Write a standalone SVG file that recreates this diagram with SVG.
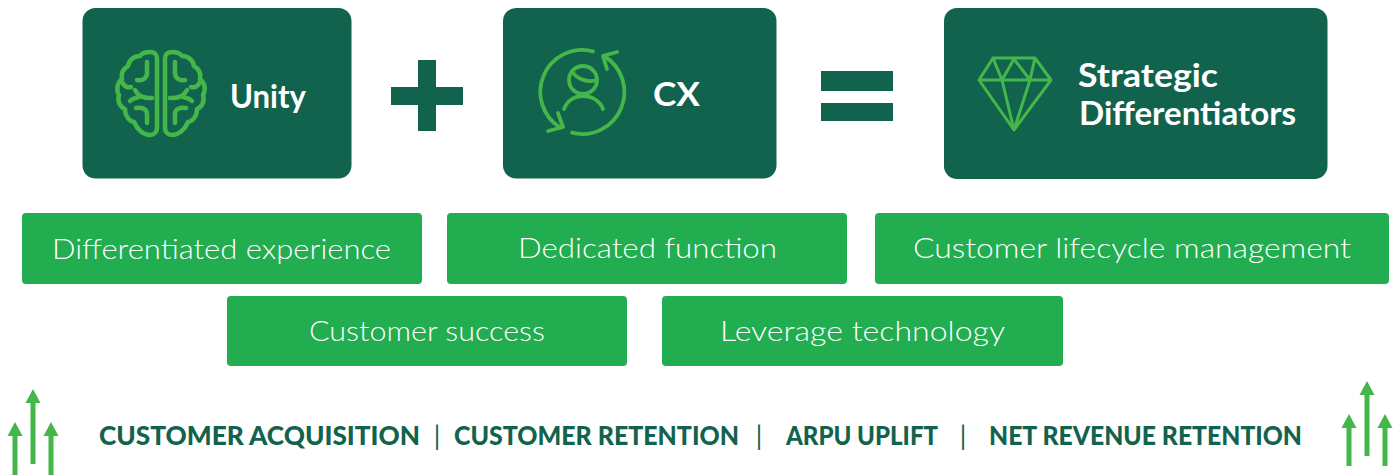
<svg xmlns="http://www.w3.org/2000/svg" width="1399" height="476" viewBox="0 0 1399 476">
<style>
.dark{fill:#12634e}
.green{fill:#22ad50}
.title{font-family:"Lato","Liberation Sans",sans-serif;font-weight:700;font-size:32px;fill:#fff}
.item{font-family:"Lato","Liberation Sans",sans-serif;font-weight:300;font-size:27px;fill:#fff}
.metric{font-family:"Lato","Liberation Sans",sans-serif;font-weight:900;font-size:26px;fill:#12634e}
.pipe{font-family:"Lato","Liberation Sans",sans-serif;font-weight:400;font-size:26px;fill:#12634e;text-anchor:middle}
.icon{fill:none;stroke:#45b649;stroke-linecap:round;stroke-linejoin:round}
.arrow{fill:#45b649}
</style>
<defs>
<path id="up" class="arrow" d="M0 0L7.500 14H-7.500Z"/>
<g id="hemi">
<path d="M157 58C157 54 154 52 150 52C146 52 142 53 140 56C134 56 129 60 128 66C123 69 121 74 122 79C117 83 116 90 119 95C117 101 120 107 125 109C125 116 129 121 134 122C137 129 143 135 150 135C154 135 157 132 157 128Z"/>
<path d="M147 62V73C147 78 143 81 137 80M122 82C124 86 127 88 131 87M135 90C139 97 144 98 152 98M130 101C132 99 135 98 139 97M136 108C142 107 147 109 147 114V123"/>
</g>
</defs>
<rect width="1399" height="476" fill="#fff"/>
<g id="connectors"></g>
<g id="node-unity">
<rect class="dark" x="82.500" y="8" width="269" height="170.500" rx="13"/>
<g class="icon" stroke-width="4.500"><use href="#hemi"/><use href="#hemi" transform="matrix(-1 0 0 1 322 0)"/></g>
<text class="title" x="230" y="108" textLength="76" lengthAdjust="spacingAndGlyphs">Unity</text>
</g>
<g id="op-plus"><path class="dark" d="M418 60H436V87H463V105H436V131H418V105H391V87H418Z"/></g>
<g id="node-cx">
<rect class="dark" x="503" y="8" width="273.500" height="170.500" rx="13"/>
<g class="icon" stroke-width="3.800">
<path d="M593 51.300A42 42 0 0 0 560 127.500"/>
<path d="M572 132.700A42 42 0 0 0 604 56"/>
<path d="M548 131L563 127L558 113M617 52L603 56L607 69"/>
<circle cx="583" cy="80" r="14"/>
<path d="M572 71C576 79 588 83 597 80"/>
<path d="M564 109C567 101 574 96 583 96C592 96 600 101 603 109"/>
</g>
<text class="title" x="653" y="106" textLength="47" lengthAdjust="spacingAndGlyphs">CX</text>
</g>
<g id="op-equals"><rect class="dark" x="821" y="71" width="72" height="20"/><rect class="dark" x="821" y="103" width="72" height="18"/></g>
<g id="node-strategic">
<rect class="dark" x="944" y="8" width="383.500" height="171" rx="13"/>
<g class="icon" stroke-width="3"><path d="M993 58H1035L1051 80L1014 130L979 80ZM979 80H1051M993 58L1002 80L1014 59L1030 80L1035 58M1002 80L1014 130L1030 80"/></g>
<text class="title" x="1078" y="87" textLength="140" lengthAdjust="spacingAndGlyphs">Strategic</text>
<text class="title" x="1079" y="125" textLength="217" lengthAdjust="spacingAndGlyphs">Differentiators</text>
</g>
<g id="node-experience"><rect class="green" x="22" y="213" width="400" height="71" rx="4"/><text class="item" x="52" y="259" textLength="339" lengthAdjust="spacingAndGlyphs">Differentiated experience</text></g>
<g id="node-function"><rect class="green" x="447" y="213" width="400" height="71" rx="4"/><text class="item" x="518" y="258" textLength="259" lengthAdjust="spacingAndGlyphs">Dedicated function</text></g>
<g id="node-lifecycle"><rect class="green" x="875" y="213" width="514" height="71" rx="4"/><text class="item" x="913" y="258" textLength="438" lengthAdjust="spacingAndGlyphs">Customer lifecycle management</text></g>
<g id="node-success"><rect class="green" x="227" y="296" width="400" height="70" rx="4"/><text class="item" x="309" y="341" textLength="236" lengthAdjust="spacingAndGlyphs">Customer success</text></g>
<g id="node-technology"><rect class="green" x="662" y="296" width="401" height="70" rx="4"/><text class="item" x="720" y="341" textLength="285" lengthAdjust="spacingAndGlyphs">Leverage technology</text></g>
<g id="metrics">
<text class="metric" x="99" y="445" textLength="321" lengthAdjust="spacingAndGlyphs">CUSTOMER ACQUISITION</text>
<text class="pipe" x="437" y="445">|</text>
<text class="metric" x="454" y="445" textLength="285" lengthAdjust="spacingAndGlyphs">CUSTOMER RETENTION</text>
<text class="pipe" x="759" y="445">|</text>
<text class="metric" x="786" y="445" textLength="152" lengthAdjust="spacingAndGlyphs">ARPU UPLIFT</text>
<text class="pipe" x="963" y="445">|</text>
<text class="metric" x="989" y="445" textLength="313" lengthAdjust="spacingAndGlyphs">NET REVENUE RETENTION</text>
</g>
<g id="arrows-left">
<g transform="translate(15 422)"><use href="#up"/><rect class="arrow" x="-2.500" y="13" width="5" height="40"/></g>
<g transform="translate(33 389)"><use href="#up"/><rect class="arrow" x="-2.500" y="13" width="5" height="62"/></g>
<g transform="translate(51 422)"><use href="#up"/><rect class="arrow" x="-2.500" y="13" width="5" height="40"/></g>
</g>
<g id="arrows-right">
<g transform="translate(1349 414)"><use href="#up"/><rect class="arrow" x="-2.500" y="13" width="5" height="39"/></g>
<g transform="translate(1367 381)"><use href="#up"/><rect class="arrow" x="-2.500" y="13" width="5" height="62"/></g>
<g transform="translate(1385 414)"><use href="#up"/><rect class="arrow" x="-2.500" y="13" width="5" height="39"/></g>
</g>
</svg>
